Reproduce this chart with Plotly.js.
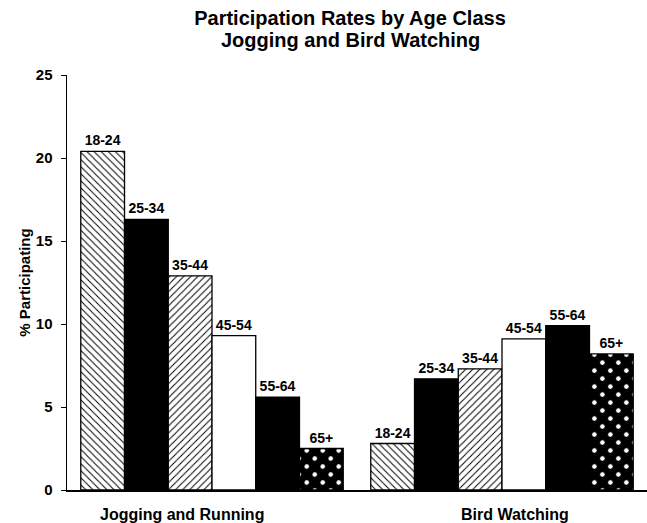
<!DOCTYPE html>
<html>
<head>
<meta charset="utf-8">
<script src="https://cdn.plot.ly/plotly-3.0.1.min.js"></script>
<style>html,body{margin:0;padding:0;background:#fff;}#chart{width:647px;height:523px;}</style>
</head>
<body>
<div id="chart"></div>
<script>
var activities = ["Jogging and Running", "Bird Watching"];
var ageClasses = ["18-24", "25-34", "35-44", "45-54", "55-64", "65+"];
var jogging = [20.4, 16.3, 12.9, 9.3, 5.6, 2.5];
var birdWatching = [2.8, 6.7, 7.3, 9.1, 9.9, 8.2];
var titleLines = ["Participation Rates by Age Class", "Jogging and Bird Watching"];

var patterns = [
  {shape: "\\", bgcolor: "white", fgcolor: "black", size: 5, solidity: 0.2},
  {shape: "", bgcolor: "black", fgcolor: "black"},
  {shape: "/", bgcolor: "white", fgcolor: "black", size: 5, solidity: 0.2},
  {shape: "", bgcolor: "white", fgcolor: "white"},
  {shape: "", bgcolor: "black", fgcolor: "black"},
  {shape: ".", bgcolor: "black", fgcolor: "white", size: 11.3, solidity: 0.13}
];
var fills = ["white", "black", "white", "white", "black", "black"];
var labelShift = [-30, 13];

var FONT = "Liberation Sans, Arial, Helvetica, sans-serif";
var W = 647, H = 523, ML = 67, MR = 0, MT = 75, MB = 33;
var titleCenterX = 350;

var traces = ageClasses.map(function (age, i) {
  return {
    type: "bar",
    name: age,
    x: activities,
    y: [jogging[i], birdWatching[i]],
    text: [age, age],
    textposition: "outside",
    texttemplate: "%{text}",
    cliponaxis: false,
    textfont: {family: FONT, size: 14, color: "black", weight: "bold"},
    marker: {
      color: fills[i],
      line: {color: "black", width: 1.3},
      pattern: patterns[i]
    },
    hoverinfo: "x+y+name"
  };
});

var annotations = activities.map(function (a, i) {
  return {
    x: a, xref: "x", y: 0, yref: "y",
    yanchor: "top", xanchor: "center",
    xshift: labelShift[i], yshift: -14,
    text: a, showarrow: false,
    font: {family: FONT, size: 16, weight: "bold", color: "black"}
  };
});
annotations.push({
  x: (titleCenterX - ML) / (W - ML - MR), xref: "paper",
  y: 1 + (MT - 40) / (H - MT - MB), yref: "paper",
  xanchor: "center", yanchor: "middle",
  text: titleLines[1], showarrow: false,
  font: {family: FONT, size: 20, weight: "bold", color: "black"}
});

var layout = {
  width: W,
  height: H,
  margin: {l: ML, r: MR, t: MT, b: MB},
  paper_bgcolor: "white",
  plot_bgcolor: "white",
  showlegend: false,
  barmode: "group",
  bargap: 0.095,
  bargroupgap: 0,
  font: {family: FONT, color: "black"},
  annotations: annotations,
  title: {
    text: titleLines[0],
    x: titleCenterX / W,
    xanchor: "center",
    xref: "container",
    y: 1 - 18 / H,
    yanchor: "middle",
    yref: "container",
    font: {family: FONT, size: 20, color: "black", weight: "bold"}
  },
  xaxis: {
    type: "category",
    showline: true,
    linecolor: "black",
    linewidth: 1.5,
    ticks: "",
    showticklabels: false,
    showgrid: false,
    zeroline: false
  },
  yaxis: {
    range: [0, 25],
    tickvals: [0, 5, 10, 15, 20, 25],
    showline: true,
    linecolor: "black",
    linewidth: 1.5,
    ticks: "outside",
    ticklen: 5,
    tickcolor: "black",
    showgrid: false,
    zeroline: false,
    ticklabelstandoff: 5,
    tickfont: {size: 15, weight: "bold", color: "black"},
    title: {
      text: "% Participating",
      standoff: 1,
      font: {size: 15, weight: "bold", color: "black"}
    }
  }
};

Plotly.newPlot("chart", traces, layout, {displayModeBar: false, staticPlot: true}).then(function () {
  document.querySelectorAll("#chart pattern").forEach(function (p) {
    if (p.querySelector("circle")) p.setAttribute("patternTransform", "rotate(45)");
  });
});
</script>
</body>
</html>
